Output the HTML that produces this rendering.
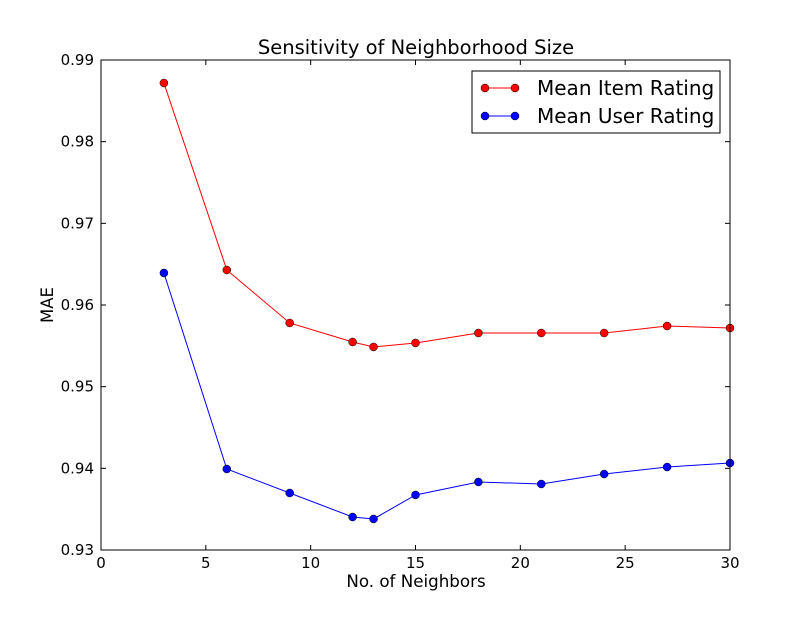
<!DOCTYPE html>
<html><head><meta charset="utf-8">
<style>
body{margin:0;background:#fff;}
svg text{font-family:"DejaVu Sans","Liberation Sans",sans-serif;}
</style></head>
<body>
<svg id="chart" width="812" height="612" xmlns="http://www.w3.org/2000/svg">
<rect x="0" y="0" width="812" height="612" fill="#fff"/>
<text x="416" y="54" font-size="19.5" text-anchor="middle">Sensitivity of Neighborhood Size</text>
<text x="416" y="587" font-size="16.7" text-anchor="middle">No. of Neighbors</text>
<text x="53" y="305" font-size="16.5" text-anchor="middle" transform="rotate(-90 53 305)">MAE</text>
<g id="ticks"></g>
<g id="series"></g>
<rect x="101" y="60" width="629" height="490" fill="none" stroke="#000" stroke-width="1"/>
<g>
<rect x="472" y="71" width="248" height="62" fill="#fff" stroke="#000" stroke-width="1"/>
<g>
<line x1="485" y1="88" x2="515" y2="88" stroke="#ff0000" stroke-width="1"/>
<circle cx="485" cy="88" r="4" fill="#ff0000" stroke="#000" stroke-width="0.5"/>
<circle cx="515" cy="88" r="4" fill="#ff0000" stroke="#000" stroke-width="0.5"/>
<text x="537" y="95" font-size="20">Mean Item Rating</text>
</g>
<g>
<line x1="485" y1="116" x2="515" y2="116" stroke="#0000ff" stroke-width="1"/>
<circle cx="485" cy="116" r="4" fill="#0000ff" stroke="#000" stroke-width="0.5"/>
<circle cx="515" cy="116" r="4" fill="#0000ff" stroke="#000" stroke-width="0.5"/>
<text x="537" y="123" font-size="20">Mean User Rating</text>
</g>
</g>
</svg>
<script>
const xValues = [3, 6, 9, 12, 13, 15, 18, 21, 24, 27, 30];
const itemMAE = [0.98718, 0.96429, 0.9578, 0.95547, 0.95486, 0.95535, 0.95657, 0.95657, 0.95657, 0.95743, 0.95718];
const userMAE = [0.96392, 0.93992, 0.93698, 0.93404, 0.9338, 0.93674, 0.93833, 0.93808, 0.9393, 0.94016, 0.94065];
const xTicks = [0, 5, 10, 15, 20, 25, 30];
const yTicks = [0.93, 0.94, 0.95, 0.96, 0.97, 0.98, 0.99];

const X0 = 101, X1 = 730, Y0 = 550, Y1 = 60;
const xMin = 0, xMax = 30, yMin = 0.93, yMax = 0.99;
function xs(v){ return X0 + (v - xMin) / (xMax - xMin) * (X1 - X0); }
function ys(v){ return Y0 - (v - yMin) / (yMax - yMin) * (Y0 - Y1); }
const NS = "http://www.w3.org/2000/svg";
function mk(tag, attrs, parent){ const e = document.createElementNS(NS, tag); for (const k in attrs) e.setAttribute(k, attrs[k]); parent.appendChild(e); return e; }

const tg = document.getElementById('ticks');
xTicks.forEach(t => {
  const x = xs(t);
  const l1 = mk('line', {x1:x, y1:Y0, x2:x, y2:Y0-5, stroke:'#000'}, tg);
  
  
  mk('line', {x1:x, y1:Y1, x2:x, y2:Y1+5, stroke:'#000'}, tg);
  const tx = mk('text', {x:x, y:568, 'font-size':15, 'text-anchor':'middle'}, tg);
  tx.textContent = t;
  
  
});
yTicks.forEach(t => {
  const y = ys(t);
  const l1 = mk('line', {x1:X0, y1:y, x2:X0+5, y2:y, stroke:'#000'}, tg);
  
  
  mk('line', {x1:X1, y1:y, x2:X1-5, y2:y, stroke:'#000'}, tg);
  const tx = mk('text', {x:94, y:y+5, 'font-size':15, 'text-anchor':'end'}, tg);
  tx.textContent = t.toFixed(2);
  
  
});

const sg = document.getElementById('series');
function drawSeries(vals, color, name){
  const g = mk('g', {}, sg);
  
  
  const pts = xValues.map((x, i) => xs(x) + ',' + ys(vals[i])).join(' ');
  const pl = mk('polyline', {points:pts, fill:'none', stroke:color, 'stroke-width':1}, g);
  
  
  xValues.forEach((x, i) => {
    const c = mk('circle', {cx:xs(x), cy:ys(vals[i]), r:4, fill:color, stroke:'#000', 'stroke-width':0.5}, g);
    
    
  });
}
drawSeries(itemMAE, '#ff0000', 'mean-item-rating');
drawSeries(userMAE, '#0000ff', 'mean-user-rating');
</script>
</body></html>
